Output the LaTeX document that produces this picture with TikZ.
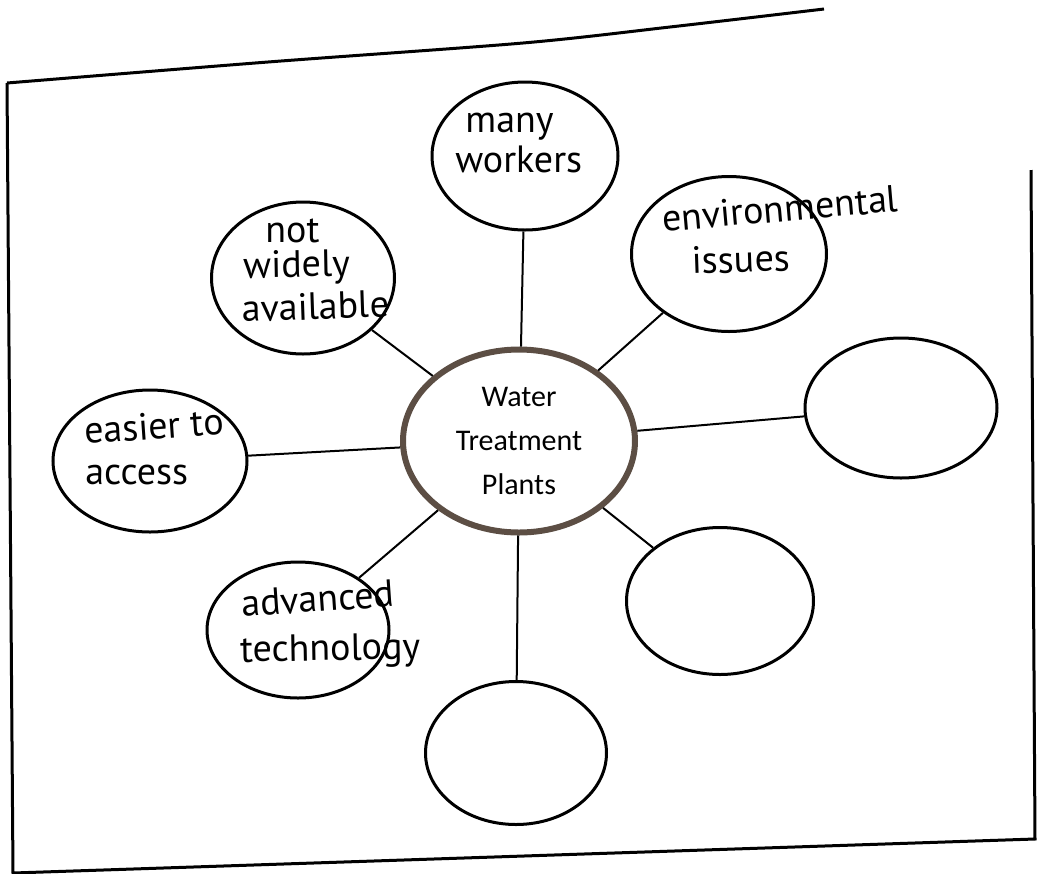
\documentclass[tikz,border=0pt]{standalone}
\usepackage{fontspec}
\usetikzlibrary{shapes.geometric}
\setmainfont{Carlito}
\newfontfamily\hand{PT Sans}
\definecolor{ringbrown}{RGB}{92,78,68}

\begin{document}
\begin{tikzpicture}[x=0.5pt,y=-0.5pt,
  bubble/.style={ellipse,draw,line width=1.5pt,inner sep=0pt},
  hw/.style={font=\hand\fontsize{19}{19}\selectfont,inner sep=0pt,anchor=base west},
  link/.style={line width=1pt}]
\useasboundingbox (0,0) rectangle (1051,874);
\def\bub#1#2#3#4#5{
\node[bubble,minimum width=#4*0.5pt,minimum height=#5*0.5pt] (#1) at (#2,#3) {};
}
\draw[line width=1.5pt] plot[smooth] coordinates {(7,83) (268,62) (523,43) (670,27) (824,9)};
\draw[line width=1.5pt] (1031,170) -- (1035,839) -- (13,873) -- (7,83);
\node[ellipse,draw=ringbrown,line width=3pt,inner sep=0pt,minimum width=116pt,minimum height=91.5pt,
  align=center,font=\fontsize{15}{22}\selectfont] (wtp) at (519,441) {Water\\Treatment\\Plants};
\bub{mw}{525}{156}{186}{148}
\bub{env}{729}{254}{195}{155}
\bub{rgt}{901}{408}{192}{140}
\bub{lr}{720}{601}{187}{147}
\bub{bot}{516}{753}{181}{143}
\bub{adv}{298}{630}{182}{136}
\bub{eas}{150}{461}{194}{142}
\bub{nwa}{303}{278}{183}{152}
\foreach \b in {mw,env,rgt,lr,bot,adv,eas,nwa}
  \draw[link] (wtp) -- (\b);
\node[hw] (mw1) at (465,132) {many};
\node[hw] (mw2) at (455,172) {workers};
\node[hw,rotate=5] (env1) at (663,232) {environmental};
\node[hw,rotate=2] (env2) at (692,274) {issues};
\node[hw] (nwa1) at (265,242) {not};
\node[hw,rotate=1] (nwa2) at (243,278) {widely};
\node[hw,rotate=2] (nwa3) at (242,322) {available};
\node[hw,rotate=4] (eas1) at (85,444) {easier to};
\node[hw] (eas2) at (85,484) {access};
\node[hw,rotate=4] (adv1) at (242,617) {advanced};
\node[hw,rotate=1] (adv2) at (240,662) {technology};
\end{tikzpicture}
\end{document}
